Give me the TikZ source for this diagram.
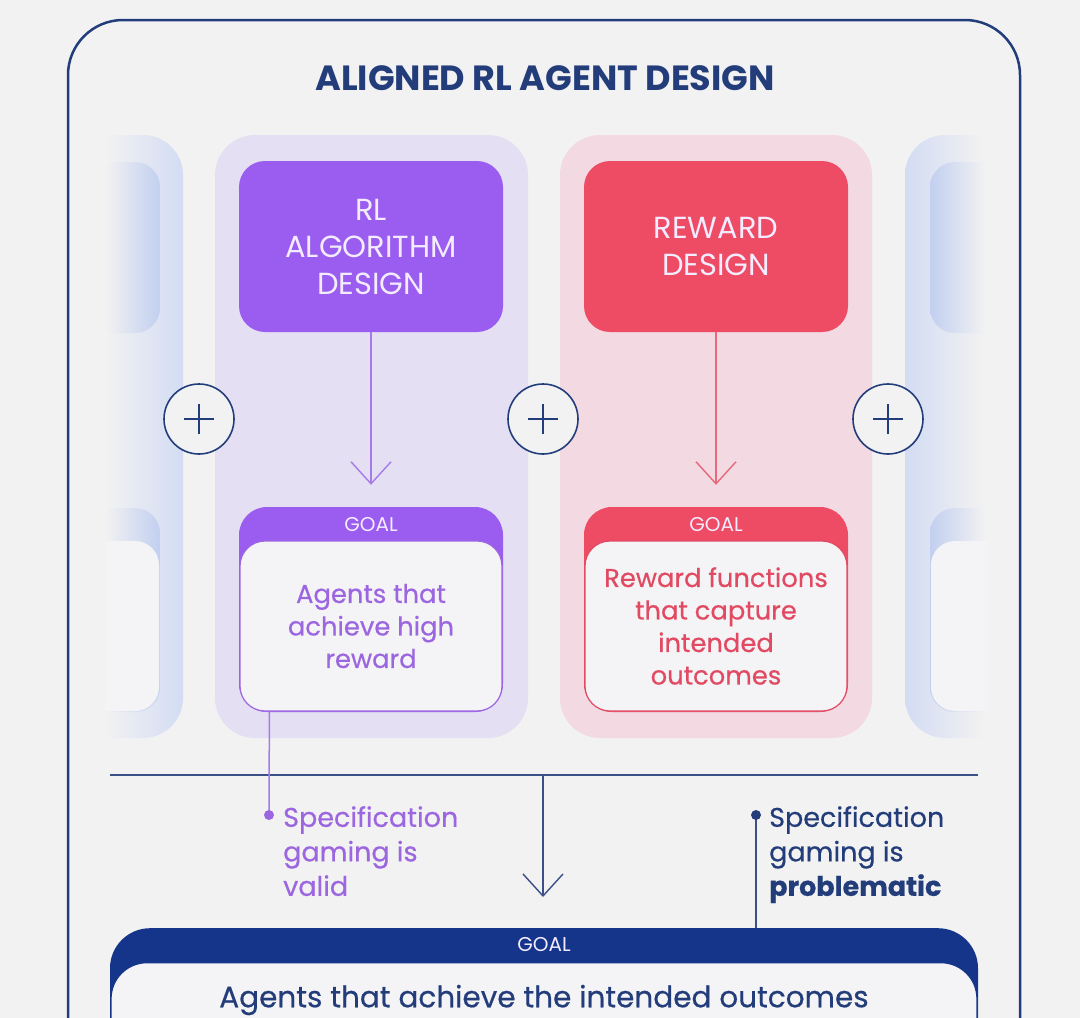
\documentclass[tikz,border=0pt]{standalone}
\usepackage{fontspec}
\setmainfont{Poppins}
\newfontfamily\medfont[FakeBold=0.5]{Poppins}
\usetikzlibrary{arrows.meta}
\definecolor{bg}{HTML}{F2F2F2}
\definecolor{navy}{HTML}{233D7B}
\definecolor{navyline}{HTML}{3C5088}
\definecolor{goalnavy}{HTML}{15358B}
\definecolor{lav}{HTML}{E5DFF4}
\definecolor{purp}{HTML}{9B5CF0}
\definecolor{purptext}{HTML}{9C66E0}
\definecolor{purpline}{HTML}{A57BE8}
\definecolor{pinkcol}{HTML}{F2D9E2}
\definecolor{redbox}{HTML}{EE4B65}
\definecolor{redtext}{HTML}{E14A62}
\definecolor{redline}{HTML}{E8687C}
\definecolor{ghost}{HTML}{D3DCF3}
\definecolor{ghostin}{HTML}{C2CFF0}
\definecolor{boxwhite}{HTML}{F4F3F5}
\definecolor{boxtext}{HTML}{F3ECFF}
\tikzset{
  colbg/.style={rounded corners=40pt},
  topbox/.style={rectangle, rounded corners=26pt, minimum width=264pt, minimum height=171pt, inner sep=0pt, align=center, text=boxtext, font={\fontsize{30.5}{37}\selectfont}},
  goalouter/.style={rectangle, rounded corners=28pt, minimum width=264pt, minimum height=205pt, inner sep=0pt},
  goalinner/.style={rectangle, rounded corners=25pt, minimum width=262pt, minimum height=170pt, inner sep=0pt, fill=boxwhite, line width=1.2pt, align=center, font={\medfont\fontsize{25.8}{32.5}\selectfont}},
  goallabel/.style={text=boxtext, font={\fontsize{20}{22}\selectfont}},
  plusc/.style={circle, minimum size=70pt, inner sep=0pt, fill=bg, draw=navy, line width=1.6pt},
  vtip/.style={-{Straight Barb[length=22pt,width=40pt,line width=1.4pt]}, line width=1.4pt},
  sidetext/.style={anchor=north west, align=left, inner sep=0pt, font={\medfont\fontsize{27}{34.5}\selectfont}},
}
\begin{document}
\begin{tikzpicture}[x=1pt,y=-1pt]
\clip (0,0) rectangle (1080,1018);
\fill[bg] (0,0) rectangle (1080,1018);

% outer frame
\draw[navy, line width=2.5pt, rounded corners=55pt] (68,20) rectangle (1020,1150);
\node[text=navy, font={\bfseries\fontsize{35}{40}\selectfont}] (title) at (545,78) {ALIGNED RL AGENT DESIGN};

% left ghost column
\begin{scope}
\clip (105,0) rectangle (190,1018);
\begin{scope}
\clip[colbg] (0,135) rectangle (183,738);
\shade[left color=bg, right color=ghost] (105,135) rectangle (183,738);
\end{scope}
\begin{scope}
\clip[rounded corners=25pt] (0,162) rectangle (160,333);
\shade[left color=bg, right color=ghostin] (105,162) rectangle (160,333);
\end{scope}
\begin{scope}
\clip[rounded corners=25pt] (0,508) rectangle (160,712);
\shade[left color=bg, right color=ghostin] (105,508) rectangle (160,712);
\fill[boxwhite, rounded corners=24pt] (0,541) rectangle (159,711);
\end{scope}
\end{scope}

% right ghost column
\begin{scope}
\clip (900,0) rectangle (988,1018);
\begin{scope}
\clip[colbg] (905,135) rectangle (1200,738);
\shade[left color=ghost, right color=bg] (905,135) rectangle (985,738);
\end{scope}
\begin{scope}
\clip[rounded corners=25pt] (930,162) rectangle (1200,333);
\shade[left color=ghostin, right color=bg] (930,162) rectangle (985,333);
\end{scope}
\begin{scope}
\clip[rounded corners=25pt] (930,508) rectangle (1200,712);
\shade[left color=ghostin, right color=bg] (930,508) rectangle (985,712);
\fill[boxwhite, rounded corners=24pt] (931,541) rectangle (1200,711);
\end{scope}
\end{scope}

% column backgrounds
\fill[lav, colbg] (215,135) rectangle (528,738);
\fill[pinkcol, colbg] (560,135) rectangle (872,738);

% top boxes
\node[topbox, fill=purp] (rl) at (371,246.5) {RL\\ALGORITHM\\DESIGN};
\node[topbox, fill=redbox] (rw) at (716,246.5) {REWARD\\DESIGN};

% goal boxes
\node[goalouter, fill=purp] (rlgoal) at (371,609.5) {};
\node[goalinner, draw=purptext, text=purptext] (rlgoalin) at (371,626) {Agents that\\achieve high\\reward};
\node[goallabel] (rlgoallab) at (371,525) {GOAL};

\node[goalouter, fill=redbox] (rwgoal) at (716,609.5) {};
\node[goalinner, draw=redtext, text=redtext] (rwgoalin) at (716,626) {Reward functions\\that capture\\intended\\outcomes};
\node[goallabel] (rwgoallab) at (716,525) {GOAL};

% arrows down
\draw[vtip, purpline] (rl.south) -- ([yshift=22pt]rlgoal.north);
\draw[vtip, redline] (rw.south) -- ([yshift=22pt]rwgoal.north);

% plus circles
\foreach \n/\x in {p1/199, p2/543, p3/888} {
  \node[plusc] (\n) at (\x,419) {};
  \draw[navy, line width=1.8pt] ([xshift=-15pt]\n.center) -- ([xshift=15pt]\n.center);
  \draw[navy, line width=1.8pt] ([yshift=-15pt]\n.center) -- ([yshift=15pt]\n.center);
}

% bottom goal
\node[rectangle, rounded corners=40pt, minimum width=868pt, minimum height=220pt, inner sep=0pt, fill=goalnavy, anchor=north] (goal) at (544,928) {};
\node[rectangle, rounded corners=36pt, minimum width=866pt, minimum height=200pt, inner sep=0pt, fill=boxwhite, draw=goalnavy, line width=1.3pt, anchor=north] (goalin) at (544,962) {};
\node[goallabel] (goallab) at (544,945) {GOAL};
\node[text=navy, font={\medfont\fontsize{29.5}{32}\selectfont}] (goaltext) at (544,1000) {Agents that achieve the intended outcomes};

% horizontal line and central arrow
\coordinate (hl) at (110,775);
\coordinate (hr) at (978,775);
\coordinate (hm) at (543,775);
\draw[navyline, line width=1.5pt] (hl) -- (hr);
\draw[vtip, navyline] (hm) -- ([yshift=31pt]goal.north -| hm);

% left spec text
\coordinate (pdot) at (269,815);
\draw[purpline, line width=1.5pt] ([xshift=30pt]rlgoalin.south west) -- (pdot);
\fill[purptext] (pdot) circle (5pt);
\node[sidetext, text=purptext] (spec1) at (283,806) {Specification\\gaming is\\valid};

% right spec text
\coordinate (rdot) at (756,815);
\draw[navyline, line width=1.5pt] (rdot) -- (rdot |- goal.north);
\fill[navy] (rdot) circle (5pt);
\node[sidetext, text=navy] (spec2) at (769,806) {Specification\\gaming is\\\textbf{problematic}};
\end{tikzpicture}
\end{document}
